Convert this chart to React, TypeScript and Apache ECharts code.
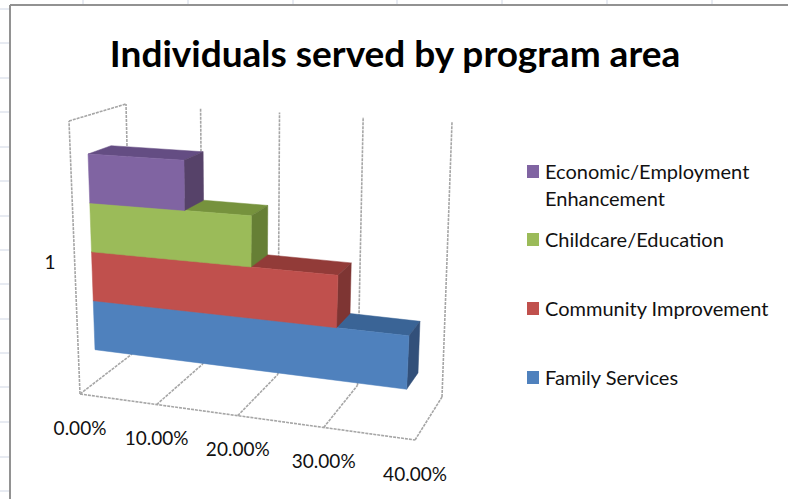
import React, { useEffect, useRef } from "react";
import * as echarts from "echarts";

const W = 788;
const H = 499;
const titleText = "Individuals served by program area";
const categoryLabel = "1";
const seriesNames = ["Family Services", "Community Improvement", "Childcare/Education", "Economic/Employment\nEnhancement"];
const seriesValues = [38, 30, 20, 12];
const tickValues = [0, 10, 20, 30, 40];
const tickLabels = ["0.00%", "10.00%", "20.00%", "30.00%", "40.00%"];
const frontColors = ["#4F81BD", "#C0504D", "#9BBB59", "#8064A2"];
const topColors = ["#3A6496", "#923B38", "#76923D", "#644D83"];
const sideColors = ["#32507A", "#7E3533", "#667F35", "#564269"];
const legendOrder = [3, 2, 1, 0];
const legendY = [172, 240, 309, 378];
const sheetColumnX = [83, 188, 293, 397, 502, 607, 712];
const sheetRowY = [9, 43, 78, 112, 147, 181, 216, 250, 284, 319, 353, 387, 422, 457, 491];

// corners of the 3D box on the page
const A = [80, 394], B = [415, 440], C = [442, 397], D = [132, 354];
const E = [69, 121], Hc = [431, 140], G = [452, 122], F = [126, 104];
const warp = 0.11;
const depthFront = 0.31;
const depthBack = 0.72;
const baseHeight = 0.12;
const barHeight = 0.184;

const mix = (p: number[], q: number[], k: number) => [p[0] + (q[0] - p[0]) * k, p[1] + (q[1] - p[1]) * k];
function project(px: number[], t: number) {
  const lin = px[0] / W;
  const h = 1 - px[1] / H;
  const u = (lin * (1 - warp)) / (1 - warp * lin);
  const floor = mix(mix(A, B, u), mix(D, C, u), t);
  const ceil = mix(mix(E, Hc, u), mix(F, G, u), t);
  return mix(floor, ceil, h);
}

const barRender = (idx: number) => (_: any, api: any) => {
  const v = api.value(0);
  const lo = baseHeight + idx * barHeight;
  const hi = lo + barHeight;
  const p = (val: number, hh: number, t: number) => project(api.coord([val, hh]), t);
  const poly = (pts: number[][], fill: string) => ({
    type: "polygon",
    shape: { points: pts },
    style: { fill, stroke: fill, lineWidth: 0.5 },
  });
  return {
    type: "group",
    children: [
      poly([p(0, hi, depthFront), p(v, hi, depthFront), p(v, hi, depthBack), p(0, hi, depthBack)], topColors[idx]),
      poly([p(v, lo, depthFront), p(v, hi, depthFront), p(v, hi, depthBack), p(v, lo, depthBack)], sideColors[idx]),
      poly([p(0, lo, depthFront), p(v, lo, depthFront), p(v, hi, depthFront), p(0, hi, depthFront)], frontColors[idx]),
    ],
  };
};

const gridStyle = { stroke: "#a6a6a6", lineWidth: 1.6, lineDash: [3, 1], fill: "none" };

const wallRender = (params: any, api: any) => {
  const v = api.value(0);
  const p = (val: number, hh: number, t: number) => project(api.coord([val, hh]), t);
  const line = (a: number[], b: number[]) => ({
    type: "polyline",
    shape: { points: [a, b] },
    style: gridStyle,
  });
  const children: any[] = [line(p(v, 0, 0), p(v, 0, 1)), line(p(v, 0, 1), p(v, 1, 1))];
  if (v === tickValues[0]) {
    children.push(line(p(v, 0, 0), p(v, 1, 0)), line(p(v, 1, 0), p(v, 1, 1)));
    children.push(line(p(tickValues[0], 0, 0), p(tickValues[tickValues.length - 1], 0, 0)));
  }
  const at = p(v, 0, 0);
  children.push({
    type: "text",
    x: at[0],
    y: at[1] + 33,
    style: {
      text: tickLabels[params.dataIndex],
      fill: "#111",
      font: "19px Lato",
      align: "center",
      verticalAlign: "middle",
    },
  });
  return { type: "group", children };
};

export default function App() {
  const ref = useRef<HTMLDivElement>(null);
  useEffect(() => {
    const chart = echarts.init(ref.current!, null, { renderer: "svg" });
    const sheet: any[] = [
      ...sheetColumnX.map((x) => ({ type: "line", shape: { x1: x, y1: 0, x2: x, y2: 5 }, style: { stroke: "#d0d7e5", lineWidth: 1 } })),
      ...sheetRowY.map((y) => ({ type: "line", shape: { x1: 0, y1: y, x2: 10, y2: y }, style: { stroke: "#d0d7e5", lineWidth: 1 } })),
      { type: "line", shape: { x1: 10, y1: 5, x2: W, y2: 5 }, style: { stroke: "#929292", lineWidth: 2 } },
      { type: "line", shape: { x1: 10, y1: 5, x2: 10, y2: H }, style: { stroke: "#929292", lineWidth: 2 } },
      { type: "text", x: 50, y: 261, style: { text: categoryLabel, fill: "#111", font: "19px Lato", align: "center", verticalAlign: "middle" } },
    ];
    const legendEls: any[] = legendOrder.flatMap((s, i) => [
      { type: "rect", shape: { x: 527, y: legendY[i] - 7, width: 12, height: 13 }, style: { fill: frontColors[s] } },
      {
        type: "text",
        x: 545,
        y: legendY[i] - 15,
        style: { text: seriesNames[s], fill: "#111", font: "20px Lato", lineHeight: 27, align: "left", verticalAlign: "top" },
      },
    ]);
    chart.setOption({
      animation: false,
      backgroundColor: "#ffffff",
      title: {
        text: titleText,
        left: 390,
        top: 29,
        textAlign: "center",
        textStyle: { fontFamily: "Lato", fontWeight: "bold", fontSize: 37, color: "#000" },
      },
      grid: { left: 0, top: 0, width: W, height: H },
      xAxis: { type: "value", min: 0, max: 40, show: false },
      yAxis: { type: "value", min: 0, max: 1, show: false },
      graphic: { elements: [...sheet, ...legendEls] },
      series: [
        {
          type: "custom",
          name: "axis",
          coordinateSystem: "cartesian2d",
          silent: true,
          clip: false,
          renderItem: wallRender,
          data: tickValues.map((v) => [v, 0]),
          z: 1,
        },
        ...seriesNames.map((name, i) => ({
          type: "custom",
          name,
          coordinateSystem: "cartesian2d",
          silent: true,
          clip: false,
          renderItem: barRender(i),
          data: [[seriesValues[i], 0]],
          z: 2 + i,
        })),
      ],
    });
    return () => chart.dispose();
  }, []);
  return <div ref={ref} style={{ position: "fixed", left: 0, top: 0, width: W, height: H }} />;
}
